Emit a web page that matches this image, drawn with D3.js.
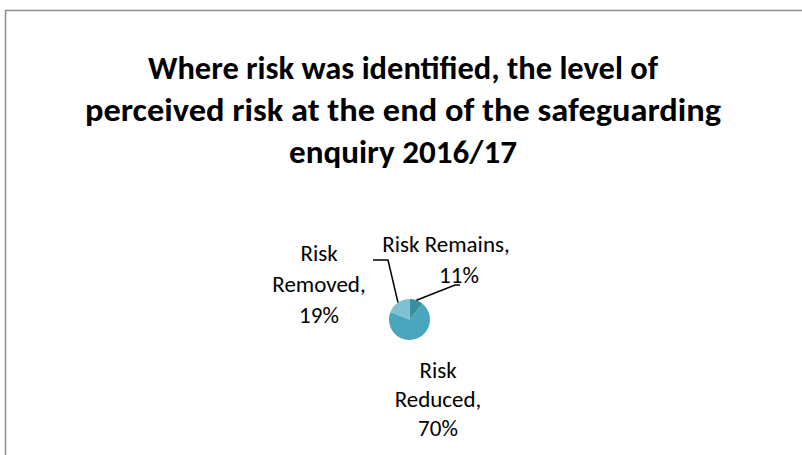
<!DOCTYPE html>
<html>
<head>
<meta charset="utf-8">
<script src="https://cdn.jsdelivr.net/npm/d3@7"></script>
<style>
  body { margin: 0; background: #fff; }
  svg { display: block; }
  .title { font-family: Carlito, Calibri, Lato, sans-serif; font-weight: bold; fill: #000; }
  .lbl { font-family: Carlito, Calibri, Lato, sans-serif; fill: #000; }
</style>
</head>
<body>
<svg id="chart" width="802" height="455"></svg>
<script>
// data
const categories = ["Risk Remains", "Risk Reduced", "Risk Removed"];
const values = [11, 70, 19];
const colours = ["#3b8e9f", "#4aa6bd", "#7fc1d2"];
const titleLines = ["Where risk was identified, the level of",
                    "perceived risk at the end of the safeguarding",
                    "enquiry 2016/17"];

let svg = d3.select("#chart");
const W = 802, H = 455;

// outer frame (runs off the right/bottom of the picture)
svg.append("rect")
    .attr("x", 5.5).attr("y", 10.5)
    .attr("width", W + 20).attr("height", H + 20)
    .style("fill", "none")
    .style("stroke", "#8e8e8e")
    .style("stroke-width", 1.5);

// title, three centred lines
let titleWidths = [510, 636, 228];
svg.selectAll(".title")
    .data(titleLines)
    .enter().append("text")
    .attr("class", "title")
    .attr("x", 403)
    .attr("y", (d, i) => 79 + 42 * i)
    .attr("text-anchor", "middle")
    .style("font-size", "32px")
    .attr("textLength", (d, i) => titleWidths[i])
    .attr("lengthAdjust", "spacingAndGlyphs")
    .text(d => d);

// pie
let cx = 409.5, cy = 319.5, r = 20.5;
let pie = d3.pie().sort(null).value(d => d)(values);
let arc = d3.arc().innerRadius(0).outerRadius(r);
let edge = d3.arc().innerRadius(r).outerRadius(r);

let g = svg.append("g").attr("transform", "translate(" + cx + "," + cy + ")");
g.selectAll("path.slice")
    .data(pie)
    .enter().append("path")
    .attr("class", "slice")
    .attr("d", arc)
    .style("fill", (d, i) => colours[i]);

// label layout: centre x of the text block, first baseline, line gap, leader bend/end
let labelLayout = [
    {x: 446, y: 252, gap: 31, lines: 2, leader: [[455, 285], [460, 285]]},
    {x: 438, y: 378, gap: 29, lines: 3, leader: null},
    {x: 319, y: 261, gap: 31, lines: 3, leader: [[388, 260], [373, 260]]}
];

pie.forEach(function(d, i) {
    let lay = labelLayout[i];
    let pct = d3.format(".0%")(d.value / d3.sum(values));
    let parts;
    if (lay.lines === 2) parts = [categories[i] + ",", pct];
    else {
        let w = categories[i].split(" ");
        parts = [w[0], w.slice(1).join(" ") + ",", pct];
    }
    let t = svg.append("text").attr("class", "lbl")
        .attr("text-anchor", "middle")
        .style("font-size", "23px");
    parts.forEach(function(p, k) {
        t.append("tspan")
            .attr("x", (lay.lines === 2 && k === 1) ? lay.x + 13 : lay.x)
            .attr("y", lay.y + lay.gap * k)
            .text(p);
    });
    if (lay.leader) {
        let c = edge.centroid(d);
        let pts = [[cx + c[0], cy + c[1]]].concat(lay.leader);
        svg.append("path")
            .attr("d", d3.line()(pts))
            .style("fill", "none")
            .style("stroke", "#000")
            .style("stroke-width", 1.5);
    }
});
</script>
</body>
</html>
